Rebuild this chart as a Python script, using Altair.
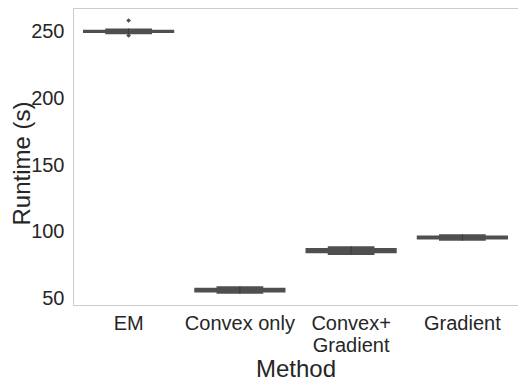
import altair as alt
import pandas as pd

methods = ["EM", "Convex only", "Convex+\nGradient", "Gradient"]
wide_lo = [249.2, 54.2, 83.6, 94.0]
wide_hi = [251.6, 57.8, 87.6, 97.0]
narrow_lo = [248.3, 53.2, 82.3, 93.1]
narrow_hi = [252.6, 58.9, 88.9, 97.9]
medians = [250.4, 56.0, 85.6, 95.5]
outlier_method = ["EM", "EM"]
outlier_value = [258.6, 247.4]

df = pd.DataFrame({
    "Method": methods,
    "wlo": wide_lo, "whi": wide_hi,
    "nlo": narrow_lo, "nhi": narrow_hi,
    "med": medians,
})
df_out = pd.DataFrame({"Method": outlier_method, "v": outlier_value})

color = "#4f4f4f"
xenc = alt.X("Method:N", sort=methods, title="Method",
             scale=alt.Scale(paddingInner=0, paddingOuter=0),
             axis=alt.Axis(labelAngle=0, labelExpr="split(datum.label, '\\n')",
                           labelLineHeight=22, labelPadding=8, titlePadding=2))
yscale = alt.Scale(domain=[44.8, 268], nice=False, zero=False)
yaxis = alt.Axis(values=[50, 100, 150, 200, 250], labelPadding=9, titlePadding=-4, titleY=155)

wide = alt.Chart(df).mark_bar(width=alt.RelativeBandSize(0.82), color=color).encode(
    x=xenc,
    y=alt.Y("wlo:Q", scale=yscale, axis=yaxis, title="Runtime (s)"),
    y2="whi:Q",
)
narrow = alt.Chart(df).mark_bar(width=alt.RelativeBandSize(0.42), color=color).encode(
    x=alt.X("Method:N", sort=methods),
    y="nlo:Q", y2="nhi:Q",
)
medline = alt.Chart(df).mark_bar(width=1, color="#3a3a3a").encode(
    x=alt.X("Method:N", sort=methods),
    y="nlo:Q", y2="nhi:Q",
)
outl = alt.Chart(df_out).mark_point(shape="diamond", filled=True, size=22, color=color, opacity=1).encode(
    x=alt.X("Method:N", sort=methods),
    y="v:Q",
)

chart = (wide + narrow + medline + outl).properties(
    width=445, height=297,
    autosize=alt.AutoSizeParams(type="none"),
    padding={"left": 65, "top": 0, "right": 0, "bottom": 85},
).configure_view(
    stroke="#cccccc", strokeWidth=1
).configure_axis(
    grid=False, domain=False, ticks=False,
    labelFont="Liberation Sans", titleFont="Liberation Sans",
    labelFontSize=20, titleFontSize=24, titleFontWeight="normal",
    labelColor="#262626", titleColor="#262626",
)

chart.save("out.html", embed_options={"renderer": "svg", "actions": False})
